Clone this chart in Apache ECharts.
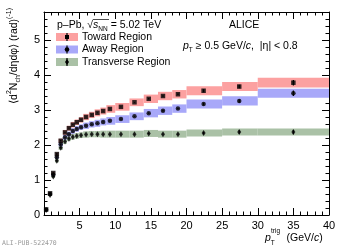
<!DOCTYPE html>
<html><head><meta charset="utf-8">
<script src="https://cdn.jsdelivr.net/npm/echarts@6/dist/echarts.min.js"></script>
<style>html,body{margin:0;padding:0;background:#fff}#c{width:345px;height:249px}</style>
</head><body><div id="c"></div>
<script>
// ---- data ----
const pT = [0.3, 0.85, 1.3, 1.8, 2.35, 2.95, 3.5, 4.05, 4.6, 5.2, 5.9, 6.7, 7.5, 8.3, 9.25, 10.8, 12.7, 14.7, 16.7, 18.8, 22.4, 27.4, 35];
const binEdges = [0.05, 0.55, 1.05, 1.55, 2.05, 2.65, 3.2, 3.75, 4.3, 4.9, 5.5, 6.3, 7.1, 7.9, 8.75, 10, 12, 14, 16, 18, 20, 25, 30, 40];
const toward = [0.16, 0.62, 1.2, 1.74, 2.12, 2.36, 2.48, 2.58, 2.65, 2.72, 2.8, 2.86, 2.92, 2.97, 3.03, 3.09, 3.22, 3.32, 3.40, 3.45, 3.55, 3.67, 3.78];
const away = [0.15, 0.6, 1.15, 1.65, 2.02, 2.22, 2.31, 2.40, 2.46, 2.51, 2.55, 2.59, 2.62, 2.66, 2.69, 2.74, 2.82, 2.91, 2.98, 3.04, 3.17, 3.26, 3.48];
const transverse = [0.14, 0.57, 1.1, 1.55, 1.92, 2.10, 2.18, 2.23, 2.26, 2.28, 2.30, 2.31, 2.31, 2.31, 2.31, 2.31, 2.31, 2.33, 2.31, 2.31, 2.34, 2.37, 2.37];
const towardSys = [0.02, 0.03, 0.04, 0.05, 0.06, 0.07, 0.07, 0.08, 0.08, 0.08, 0.09, 0.09, 0.1, 0.1, 0.11, 0.11, 0.11, 0.12, 0.12, 0.12, 0.13, 0.13, 0.14];
const awaySys = [0.02, 0.03, 0.04, 0.05, 0.06, 0.07, 0.07, 0.08, 0.08, 0.08, 0.09, 0.09, 0.1, 0.1, 0.11, 0.11, 0.11, 0.12, 0.12, 0.12, 0.13, 0.13, 0.13];
const transverseSys = [0.02, 0.03, 0.04, 0.05, 0.06, 0.07, 0.07, 0.08, 0.08, 0.08, 0.09, 0.09, 0.09, 0.1, 0.1, 0.1, 0.1, 0.1, 0.1, 0.1, 0.1, 0.1, 0.1];
const towardStat = [0.01, 0.01, 0.02, 0.03, 0.02, 0.01, 0.01, 0.01, 0.01, 0.01, 0.01, 0.01, 0.01, 0.01, 0.01, 0.01, 0.01, 0.02, 0.02, 0.02, 0.04, 0.05, 0.08];
const awayStat = [0.01, 0.01, 0.02, 0.03, 0.02, 0.01, 0.01, 0.01, 0.01, 0.01, 0.01, 0.01, 0.01, 0.01, 0.01, 0.01, 0.01, 0.02, 0.02, 0.02, 0.04, 0.05, 0.08];
const transverseStat = [0.01, 0.01, 0.02, 0.03, 0.02, 0.01, 0.01, 0.01, 0.01, 0.01, 0.01, 0.01, 0.01, 0.01, 0.01, 0.01, 0.01, 0.02, 0.02, 0.02, 0.04, 0.05, 0.06];
const xTicks = [0, 5, 10, 15, 20, 25, 30, 35, 40];
const yTicks = [0, 1, 2, 3, 4, 5];

const FONT = 'Liberation Sans';
const colT = '#fca1a1', colA = '#a8a8f9', colR = '#aac1a6';

function band(vals, sys, color) {
  return {
    type: 'custom', xAxisIndex: 0, yAxisIndex: 0, z: 1, silent: true, clip: true,
    data: vals.map((v, i) => [binEdges[i], binEdges[i + 1], v - sys[i], v + sys[i]]),
    encode: { x: [0, 1], y: [2, 3] },
    renderItem: (p, api) => {
      const a = api.coord([api.value(0), api.value(3)]);
      const b = api.coord([api.value(1), api.value(2)]);
      return { type: 'rect', shape: { x: a[0], y: a[1], width: b[0] - a[0], height: b[1] - a[1] }, style: { fill: color } };
    }
  };
}
function errbar(vals, st) {
  return {
    type: 'custom', xAxisIndex: 0, yAxisIndex: 0, z: 3, silent: true,
    data: vals.map((v, i) => [pT[i], v - st[i], v + st[i]]),
    encode: { x: 0, y: [1, 2] },
    renderItem: (p, api) => {
      const a = api.coord([api.value(0), api.value(1)]);
      const b = api.coord([api.value(0), api.value(2)]);
      return { type: 'line', shape: { x1: a[0], y1: a[1], x2: b[0], y2: b[1] }, style: { stroke: '#000', lineWidth: 1.2 } };
    }
  };
}
function pts(vals, symbol, size) {
  return { type: 'scatter', xAxisIndex: 0, yAxisIndex: 0, z: 4, symbol, symbolSize: size,
    itemStyle: { color: '#000' }, data: vals.map((v, i) => [pT[i], v]) };
}

const common = { min: 0, axisLine: { onZero: false, lineStyle: { color: '#000', width: 1 } }, splitLine: { show: false } };
const xMin = xTicks[0], xMax = xTicks[xTicks.length - 1];
const yMin = 0, yMax = 5.8;
function xa(pos, interval, len, labels, line) {
  return Object.assign({}, common, { type: 'value', position: pos, min: xMin, max: xMax, interval,
    axisLine: { show: line, onZero: false, lineStyle: { color: '#000' } },
    axisTick: { show: true, inside: true, length: len, lineStyle: { color: '#000' } },
    axisLabel: { show: labels, color: '#000', fontFamily: FONT, fontSize: 11, margin: 5,
      formatter: v => (v === 0 ? '' : String(v)) } });
}
function ya(pos, interval, len, labels, line) {
  return Object.assign({}, common, { type: 'value', position: pos, min: yMin, max: yMax, interval,
    axisLine: { show: line, onZero: false, lineStyle: { color: '#000' } },
    axisTick: { show: true, inside: true, length: len, lineStyle: { color: '#000' } },
    axisLabel: { show: labels, color: '#000', fontFamily: FONT, fontSize: 11, margin: 4, showMaxLabel: false,
      formatter: v => (yTicks.includes(v) ? String(v) : '') } });
}

const legendItems = [
  { label: 'Toward Region', color: colT, symbol: 'rect', y: 37 },
  { label: 'Away Region', color: colA, symbol: 'circle', y: 49.5 },
  { label: 'Transverse Region', color: colR, symbol: 'diamond', y: 62 }
];
const gfx = [];
legendItems.forEach(it => {
  gfx.push({ type: 'rect', shape: { x: 56, y: it.y - 4, width: 22, height: 8 }, style: { fill: it.color } });
  gfx.push({ type: 'line', shape: { x1: 67, y1: it.y - 4, x2: 67, y2: it.y + 4 }, style: { stroke: '#000', lineWidth: 1.2 } });
  const shape = it.symbol === 'rect' ? { type: 'rect', shape: { x: 65, y: it.y - 2, width: 4, height: 4 } }
    : it.symbol === 'circle' ? { type: 'circle', shape: { cx: 67, cy: it.y, r: 2.3 } }
    : { type: 'polygon', shape: { points: [[67, it.y - 3], [69, it.y], [67, it.y + 3], [65, it.y]] } };
  shape.style = { fill: '#000' };
  gfx.push(shape);
  gfx.push({ type: 'text', x: 82, y: it.y, style: { text: it.label, font: '10.5px ' + FONT, fill: '#000', textVerticalAlign: 'middle' } });
});
gfx.push({ type: 'text', x: 57, y: 25, style: {
  text: '{n|p–Pb, √}{i|s}{s|NN}{n| = 5.02 TeV}', verticalAlign: 'middle',
  rich: { n: { fontFamily: FONT, fontSize: 10.5, lineHeight: 16 },
          i: { fontFamily: FONT, fontSize: 10.5, fontStyle: 'italic', lineHeight: 16 },
          s: { fontFamily: FONT, fontSize: 6.5, lineHeight: 16, verticalAlign: 'bottom', padding: [5, 0, 0, 0] } } } });
gfx.push({ type: 'line', shape: { x1: 93, y1: 19.5, x2: 109, y2: 19.5 }, style: { stroke: '#000', lineWidth: 0.7 } });
gfx.push({ type: 'text', x: 229, y: 25, style: { text: 'ALICE', font: '10.5px ' + FONT, fill: '#000', textVerticalAlign: 'middle' } });
gfx.push({ type: 'text', x: 183, y: 46, style: {
  text: '{i|p}{s|T}{n| ≥ 0.5 GeV/}{i|c}{n|,  |η| < 0.8}', verticalAlign: 'middle',
  rich: { n: { fontFamily: FONT, fontSize: 10.5, lineHeight: 16 },
          i: { fontFamily: FONT, fontSize: 10.5, fontStyle: 'italic', lineHeight: 16 },
          s: { fontFamily: FONT, fontSize: 6.5, lineHeight: 16, verticalAlign: 'bottom', padding: [6, 0, 0, 0] } } } });
gfx.push({ type: 'text', x: 265, y: 238, style: {
  text: '{i|p}{s|T}{n|    (GeV/}{i|c}{n|)}', verticalAlign: 'middle',
  rich: { n: { fontFamily: FONT, fontSize: 10.5, lineHeight: 18 },
          i: { fontFamily: FONT, fontSize: 10.5, fontStyle: 'italic', lineHeight: 18 },
          s: { fontFamily: FONT, fontSize: 6.5, lineHeight: 18, verticalAlign: 'bottom', padding: [7, 0, 0, 0] } } } });
gfx.push({ type: 'text', x: 271, y: 231, style: { text: 'trig', font: '6.5px ' + FONT, fill: '#000', textVerticalAlign: 'middle' } });
gfx.push({ type: 'text', x: 14, y: 8, rotation: Math.PI / 2, style: {
  text: '{n|⟨d}{u|2}{n|N}{s|ch}{n|/dηdφ⟩ (rad)}{u|(-1)}', align: 'right', verticalAlign: 'middle',
  rich: { n: { fontFamily: FONT, fontSize: 10.5, lineHeight: 16 },
          s: { fontFamily: FONT, fontSize: 7, lineHeight: 16, verticalAlign: 'bottom', padding: [5, 0, 0, 0] },
          u: { fontFamily: FONT, fontSize: 7, lineHeight: 16, verticalAlign: 'top', padding: [0, 0, 5, 0] } } } });
gfx.push({ type: 'text', x: 2, y: 243, style: { text: 'ALI-PUB-522470', font: '6.5px "DejaVu Sans Mono"', fill: '#999', textVerticalAlign: 'middle' } });

const chart = echarts.init(document.getElementById('c'), null, { renderer: 'canvas' });
chart.setOption({
  animation: false,
  grid: { left: 44, right: 16, top: 12, bottom: 34, containLabel: false },
  xAxis: [xa('bottom', 5, 7, true, true), xa('bottom', 1, 3.5, false, false), xa('top', 5, 7, false, true), xa('top', 1, 3.5, false, false)],
  yAxis: [ya('left', 1, 7, true, true), ya('left', 0.2, 3.5, false, false), ya('right', 1, 7, false, true), ya('right', 0.2, 3.5, false, false)],
  series: [
    band(transverse, transverseSys, colR),
    band(away, awaySys, colA),
    band(toward, towardSys, colT),
    errbar(toward, towardStat), errbar(away, awayStat), errbar(transverse, transverseStat),
    pts(toward, 'rect', 4.5), pts(away, 'circle', 4.5), pts(transverse, 'diamond', [4, 6])
  ],
  graphic: gfx
});
</script></body></html>
